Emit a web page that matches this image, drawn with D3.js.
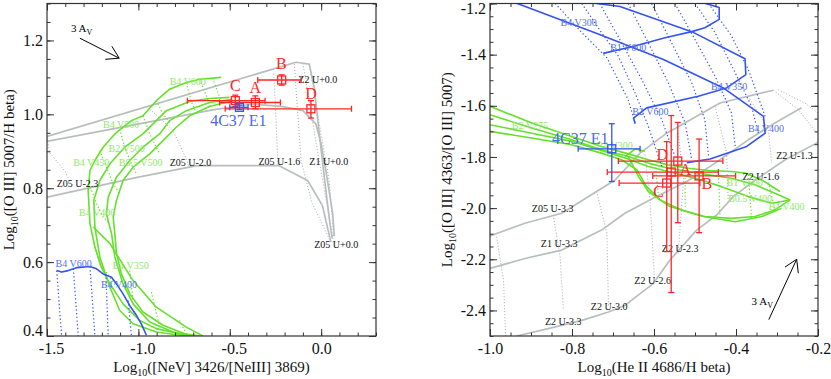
<!DOCTYPE html>
<html>
<head>
<meta charset="utf-8">
<script src="https://cdn.jsdelivr.net/npm/d3@7"></script>
<style>
  body { margin: 0; background: #fff; }
  svg text { font-family: "Liberation Serif", "Times New Roman", Times, serif; }
</style>
</head>
<body>
<div id="fig"></div>
<script>
'use strict';

// ---------- knots A-D and 4C37 E1, left panel (log [NeV]/[NeIII] , log [OIII]/Hb)
var knotNames = ['A', 'B', 'C', 'D'];
var neX    = [-0.36, -0.216, -0.47, -0.056];
var neXlo  = [-0.556, -0.347, -0.732, -0.525];
var neXhi  = [-0.223, -0.11, -0.307, 0.166];
var o3Y    = [1.032, 1.093, 1.037, 1.015];
var o3Ylo  = [1.015, 1.079, 1.021, 0.99];
var o3Yhi  = [1.05, 1.107, 1.052, 1.037];
// x, xlo, xhi, y, ylo, yhi
var e1Left = [-0.447, -0.5, -0.4, 1.019, 1.013, 1.025];

// ---------- right panel (log HeII/Hb , log [OIII]4363/5007)
var heX    = [-0.542, -0.49, -0.569, -0.558];
var heXlo  = [-0.687, -0.603, -0.685, -0.714];
var heXhi  = [-0.432, -0.401, -0.488, -0.443];
var tY     = [-1.816, -1.874, -1.902, -1.859];
var tYlo   = [-2.057, -2.096, -2.17, -2.33];
var tYhi   = [-1.665, -1.73, -1.74, -1.638];
var e1Right = [-0.703, -0.785, -0.634, -1.768, -1.896, -1.67];

// ---------- tick labels
var neTicks = [-1.5, -1.0, -0.5, 0.0];
var o3Ticks = [0.4, 0.6, 0.8, 1.0, 1.2];
var heTicks = [-1.0, -0.8, -0.6, -0.4, -0.2];
var tTicks  = [-2.4, -2.2, -2.0, -1.8, -1.6, -1.4, -1.2];

// ---------- photoionization tracks (gray), left
var grayL = [
  [[-1.5,0.94],[-0.138,1.141],[-0.065,1.136],[-0.038,1.073],[-0.014,0.965],[0.017,0.83],[0.044,0.72],[0.06,0.665]],
  [[-1.5,0.927],[-0.593,1.012],[-0.374,1.028],[-0.21,1.021],[-0.1,1.01],[-0.029,0.974],[0.0,0.92],[0.035,0.82],[0.063,0.731],[0.072,0.67]],
  [[-1.5,0.776],[-1.0,0.83],[-0.68,0.861],[-0.23,0.861],[-0.074,0.821],[0.007,0.753],[0.053,0.654]]
];
var grayDotL = [
  [[-1.497,0.935],[-1.487,0.897],[-1.4,0.845],[-1.37,0.812]],
  [[-0.95,1.02],[-0.81,0.956],[-0.738,0.879],[-0.725,0.861]],
  [[-0.26,1.11],[-0.256,1.087],[-0.238,0.884],[-0.235,0.862]],
  [[-0.147,1.136],[-0.11,0.875],[-0.05,0.76],[0.053,0.654]],
  [[-0.1,1.138],[-0.02,0.9],[0.03,0.76],[0.065,0.66]],
  [[-0.065,1.132],[0.044,0.82],[0.068,0.67]]
];

// ---------- shock + precursor (green), left
var greenL = [
  [[-0.547,1.1],[-0.665,1.095],[-0.738,1.086],[-0.829,1.068],[-0.902,1.037],[-0.975,0.996],[-1.038,0.983],[-1.129,0.947],[-1.193,0.911],[-1.238,0.875],[-1.265,0.848],[-1.275,0.794],[-1.265,0.704],[-1.238,0.641],[-1.202,0.586],[-1.156,0.541],[-1.084,0.487],[-0.993,0.442],[-0.902,0.42],[-0.775,0.406],[-0.693,0.4]],
  [[-0.502,1.046],[-0.611,1.043],[-0.72,1.035],[-0.847,1.01],[-0.92,0.974],[-0.975,0.947],[-1.075,0.911],[-1.156,0.866],[-1.211,0.821],[-1.244,0.767],[-1.238,0.695],[-1.211,0.614],[-1.156,0.532],[-1.102,0.469],[-1.029,0.433],[-0.902,0.411],[-0.738,0.4]],
  [[-0.484,1.041],[-0.611,1.032],[-0.738,1.01],[-0.829,0.983],[-0.884,0.947],[-0.975,0.911],[-1.047,0.875],[-1.12,0.83],[-1.165,0.776],[-1.175,0.731],[-1.147,0.677],[-1.129,0.614],[-1.084,0.541],[-1.029,0.487],[-0.938,0.438],[-0.811,0.411],[-0.711,0.4]],
  [[-0.484,1.037],[-0.611,1.021],[-0.72,0.996],[-0.793,0.965],[-0.865,0.929],[-0.938,0.893],[-1.029,0.857],[-1.084,0.821],[-1.12,0.767],[-1.138,0.722],[-1.129,0.677],[-1.12,0.623],[-1.093,0.568],[-1.047,0.514],[-0.975,0.465],[-0.865,0.429],[-0.747,0.406],[-0.665,0.4]],
  [[-1.247,0.695],[-1.156,0.65],[-1.029,0.55],[-0.902,0.478],[-0.738,0.424],[-0.647,0.4]]
];
var greenDotL = [
  [[-0.593,1.098],[-0.556,1.046],[-0.547,1.037]],
  [[-0.665,1.095],[-0.62,1.041],[-0.611,1.021]],
  [[-0.738,1.086],[-0.711,1.035],[-0.684,1.005]],
  [[-0.902,1.037],[-0.865,1.001],[-0.82,0.974]],
  [[-0.975,0.996],[-0.938,0.947],[-0.902,0.911],[-0.884,0.893]],
  [[-1.102,0.96],[-1.075,0.911],[-1.038,0.866],[-1.011,0.839]],
  [[-1.211,0.902],[-1.175,0.857],[-1.138,0.812],[-1.102,0.785]],
  [[-1.262,0.803],[-1.229,0.758],[-1.193,0.722],[-1.156,0.704]],
  [[-1.238,0.641],[-1.211,0.595],[-1.156,0.559],[-1.12,0.532]],
  [[-1.047,0.577],[-1.029,0.496]],
  [[-0.929,0.519],[-0.884,0.424]],
  [[-0.775,0.442],[-0.738,0.406]]
];

// ---------- shock only (blue), left
var blueL = [
  [[-1.447,0.577],[-1.42,0.573],[-1.384,0.577],[-1.338,0.585],[-1.265,0.588],[-1.229,0.582],[-1.193,0.568],[-1.147,0.559],[-1.12,0.541],[-1.084,0.514],[-1.047,0.482],[-1.011,0.456],[-0.984,0.433],[-0.956,0.402]]
];
var blueDotL = [
  [[-1.447,0.577],[-1.42,0.4]],
  [[-1.356,0.582],[-1.329,0.4]],
  [[-1.265,0.588],[-1.238,0.4]],
  [[-1.178,0.568],[-1.165,0.4]],
  [[-1.056,0.496],[-1.038,0.4]]
];

// ---------- right panel tracks
var grayR = [
  [[-1.0,-2.109],[-0.915,-2.059],[-0.825,-2.02],[-0.74,-1.935],[-0.695,-1.89],[-0.634,-1.785],[-0.569,-1.707],[-0.439,-1.589],[-0.309,-1.539]],
  [[-1.0,-2.236],[-0.915,-2.197],[-0.825,-2.164],[-0.728,-2.086],[-0.671,-2.02],[-0.602,-1.961],[-0.52,-1.896],[-0.451,-1.824],[-0.37,-1.733],[-0.305,-1.667],[-0.24,-1.608]],
  [[-0.935,-2.5],[-0.858,-2.471],[-0.776,-2.439],[-0.711,-2.406],[-0.671,-2.38],[-0.602,-2.295],[-0.561,-2.203],[-0.496,-2.086],[-0.447,-2.027],[-0.407,-1.955],[-0.358,-1.896],[-0.28,-1.811],[-0.2,-1.743]]
];
var grayDotR = [
  [[-0.984,-2.112],[-0.967,-2.282],[-0.962,-2.5]],
  [[-0.846,-2.027],[-0.829,-2.19],[-0.821,-2.399]],
  [[-0.74,-1.935],[-0.715,-2.099],[-0.711,-2.386]],
  [[-0.622,-1.791],[-0.61,-1.968],[-0.598,-2.295]],
  [[-0.541,-1.707],[-0.528,-1.89],[-0.541,-2.177]],
  [[-0.451,-1.602],[-0.423,-1.785],[-0.419,-1.968]],
  [[-0.37,-1.563],[-0.321,-1.693],[-0.313,-1.824]],
  [[-0.309,-1.539],[-0.248,-1.615],[-0.203,-1.707]],
  [[-0.297,-1.537],[-0.232,-1.589],[-0.2,-1.628]]
];
var greenR = [
  [[-1.0,-1.602],[-0.898,-1.667],[-0.801,-1.72],[-0.728,-1.759],[-0.663,-1.788],[-0.614,-1.811],[-0.565,-1.831],[-0.516,-1.844],[-0.467,-1.853],[-0.411,-1.857],[-0.378,-1.863],[-0.337,-1.89],[-0.293,-1.935]],
  [[-1.0,-1.635],[-0.898,-1.687],[-0.801,-1.733],[-0.728,-1.772],[-0.663,-1.798],[-0.614,-1.824],[-0.565,-1.844],[-0.516,-1.857],[-0.467,-1.87],[-0.411,-1.883],[-0.354,-1.909],[-0.305,-1.942],[-0.268,-1.968]],
  [[-1.0,-1.674],[-0.898,-1.707],[-0.801,-1.739],[-0.728,-1.775],[-0.663,-1.808],[-0.614,-1.837],[-0.565,-1.857],[-0.5,-1.883],[-0.435,-1.916],[-0.37,-1.955],[-0.313,-1.981],[-0.268,-1.968]],
  [[-1.0,-1.7],[-0.898,-1.726],[-0.801,-1.752],[-0.728,-1.785],[-0.679,-1.811],[-0.642,-1.85],[-0.618,-1.916],[-0.585,-1.968],[-0.533,-2.007],[-0.476,-2.033],[-0.411,-2.04],[-0.354,-2.033],[-0.305,-2.007],[-0.268,-1.968]],
  [[-0.663,-1.798],[-0.638,-1.876],[-0.614,-1.935],[-0.561,-1.994],[-0.48,-2.033],[-0.402,-2.053],[-0.337,-2.033],[-0.289,-2.001]],
  [[-0.671,-1.798],[-0.646,-1.769],[-0.622,-1.778]]
];
var greenDotR = [
  [[-0.598,-1.814],[-0.589,-1.955]],
  [[-0.524,-1.841],[-0.524,-1.995]],
  [[-0.443,-1.856],[-0.439,-2.033]],
  [[-0.37,-1.87],[-0.362,-2.04]],
  [[-0.321,-1.9],[-0.305,-2.007]]
];
var blueR = [
  [[-0.935,-1.199],[-0.744,-1.314],[-0.577,-1.419],[-0.431,-1.53],[-0.333,-1.641],[-0.329,-1.707],[-0.374,-1.759],[-0.463,-1.808],[-0.52,-1.822]],
  [[-0.744,-1.199],[-0.683,-1.212],[-0.508,-1.31],[-0.378,-1.416],[-0.376,-1.478],[-0.423,-1.53],[-0.492,-1.563],[-0.618,-1.608],[-0.65,-1.648],[-0.646,-1.67]],
  [[-0.724,-1.395],[-0.654,-1.369],[-0.573,-1.334],[-0.508,-1.31],[-0.476,-1.295],[-0.441,-1.262],[-0.441,-1.216],[-0.476,-1.199]]
];
var blueDotR = [
  [[-0.841,-1.2],[-0.776,-1.314],[-0.715,-1.412],[-0.663,-1.576],[-0.646,-1.667]],
  [[-0.776,-1.2],[-0.728,-1.314],[-0.687,-1.406],[-0.646,-1.55],[-0.614,-1.68],[-0.581,-1.837]],
  [[-0.732,-1.2],[-0.679,-1.354],[-0.63,-1.497],[-0.581,-1.654],[-0.549,-1.798]],
  [[-0.663,-1.2],[-0.614,-1.354],[-0.565,-1.51],[-0.524,-1.667],[-0.508,-1.811]],
  [[-0.606,-1.2],[-0.557,-1.354],[-0.508,-1.51],[-0.476,-1.654],[-0.467,-1.798]],
  [[-0.549,-1.2],[-0.5,-1.341],[-0.451,-1.484],[-0.411,-1.628],[-0.402,-1.759]],
  [[-0.5,-1.2],[-0.451,-1.314],[-0.402,-1.471],[-0.362,-1.602],[-0.346,-1.707]],
  [[-0.467,-1.2],[-0.411,-1.327],[-0.37,-1.458],[-0.329,-1.641]]
];

// ---------- model labels  [text, x, y]
var blackLabL = [['Z05 U-2.3',-1.447,0.803],['Z05 U-2.0',-0.829,0.861],['Z05 U-1.6',-0.343,0.864],
  ['Z1 U+0.0',-0.065,0.864],['Z2 U+0.0',-0.125,1.086],['Z05 U+0.0',-0.038,0.639]];
var greenLabL = [['B4 V600',-0.829,1.08],['B4 V500',-1.193,0.964],['B2 V500',-1.163,0.897],['B4 V450',-1.357,0.859],
  ['B0.5 V500',-1.107,0.859],['B4 V400',-1.325,0.726],['B4 V350',-1.142,0.582]];
var blueLabL = [['B4 V600',-1.453,0.586],['B4 V400',-1.205,0.531]];
var blackLabR = [['Z05 U-3.3',-0.898,-2.016],['Z1 U-3.3',-0.876,-2.153],['Z2 U-3.3',-0.866,-2.458],['Z2 U-3.0',-0.754,-2.399],
  ['Z2 U-2.6',-0.648,-2.297],['Z2 U-2.3',-0.581,-2.171],['Z2 U-1.6',-0.384,-1.892],['Z2 U-1.3',-0.302,-1.808]];
var greenLabR = [['B2 V275',-0.947,-1.691],['B4 V300',-0.74,-1.768],['B1 V600',-0.423,-1.913],['B0.5 V400',-0.419,-1.977],['B4 V400',-0.321,-2.007]];
var blueLabR = [['B4 V300',-0.828,-1.288],['B1 V600',-0.707,-1.386],['B4 V350',-0.461,-1.539],['B2 V600',-0.653,-1.637],['B4 V400',-0.371,-1.702]];

// knot label positions  [x, y]
var knotLabL = [[-0.36,1.059],[-0.218,1.123],[-0.469,1.064],[-0.056,1.042]];
var knotLabR = [[-0.523,-1.87],[-0.471,-1.925],[-0.589,-1.956],[-0.58,-1.811]];
var e1LabL = [-0.453, 0.969];
var e1LabR = [-0.78, -1.748];

// reddening vectors (3 A_V): start, end, label
var avL = [[-1.32,1.206],[-1.105,1.152],[-1.369,1.224]];
var avR = [[-0.32,-2.436],[-0.252,-2.2],[-0.362,-2.38]];

var fig = {};
fig.font = '"Liberation Serif", "Times New Roman", Times, serif';
fig.red = '#ff2626';
fig.blue = '#3553f2';
fig.green = '#64e12a';
fig.greenTxt = '#8fe86c';
fig.blueTxt = '#5470f0';
fig.gray = '#b8bebe';
fig.grayDot = '#a8a8a8';

fig.svg = d3.select('#fig').append('svg')
  .attr('width', 831)
  .attr('height', 379)
  .style('display', 'block');

fig.lines = function (g, x, y, set, color, width, dash) {
  var line = d3.line().x(function (d) { return x(d[0]); }).y(function (d) { return y(d[1]); });
  g.append('g').selectAll('path').data(set).enter().append('path')
    .attr('d', line)
    .attr('fill', 'none')
    .attr('stroke', color)
    .attr('stroke-width', width)
    .attr('stroke-dasharray', dash || null)
    .attr('stroke-linejoin', 'round');
};

fig.labels = function (g, x, y, list, color, size, anchor) {
  g.append('g').selectAll('text').data(list).enter().append('text')
    .attr('x', function (d) { return x(d[1]); })
    .attr('y', function (d) { return y(d[2]); })
    .attr('fill', color)
    .style('font-size', size + 'px')
    .attr('text-anchor', anchor || 'start')
    .text(function (d) { return d[0]; });
};

fig.knots = function (g, x, y, k, color) {
  var data = k.x.map(function (v, i) {
    return {x: v, xlo: k.xlo[i], xhi: k.xhi[i], y: k.y[i], ylo: k.ylo[i], yhi: k.yhi[i]};
  });
  var cap = 3;
  var s = g.append('g').selectAll('g').data(data).enter().append('g')
    .attr('stroke', color).attr('stroke-width', 1.3).attr('fill', 'none');
  s.append('line').attr('x1', function (d) { return x(d.xlo); }).attr('x2', function (d) { return x(d.xhi); })
    .attr('y1', function (d) { return y(d.y); }).attr('y2', function (d) { return y(d.y); });
  s.append('line').attr('x1', function (d) { return x(d.x); }).attr('x2', function (d) { return x(d.x); })
    .attr('y1', function (d) { return y(d.ylo); }).attr('y2', function (d) { return y(d.yhi); });
  [['xlo', 'v'], ['xhi', 'v'], ['ylo', 'h'], ['yhi', 'h']].forEach(function (c) {
    s.append('line')
      .attr('x1', function (d) { return c[1] === 'v' ? x(d[c[0]]) : x(d.x) - cap; })
      .attr('x2', function (d) { return c[1] === 'v' ? x(d[c[0]]) : x(d.x) + cap; })
      .attr('y1', function (d) { return c[1] === 'v' ? y(d.y) - cap : y(d[c[0]]); })
      .attr('y2', function (d) { return c[1] === 'v' ? y(d.y) + cap : y(d[c[0]]); });
  });
  s.append('rect')
    .attr('x', function (d) { return x(d.x) - 4; })
    .attr('y', function (d) { return y(d.y) - 4; })
    .attr('width', 8).attr('height', 8);
};

fig.arrow = function (g, x, y, av) {
  var x0 = x(av[0][0]), y0 = y(av[0][1]), x1 = x(av[1][0]), y1 = y(av[1][1]);
  var a = Math.atan2(y0 - y1, x0 - x1);
  var len = 14, spread = 0.55;
  var grp = g.append('g').attr('stroke', '#000').attr('stroke-width', 1).attr('fill', 'none');
  grp.append('line').attr('x1', x0).attr('y1', y0).attr('x2', x1).attr('y2', y1);
  [-spread, spread].forEach(function (s) {
    grp.append('line').attr('x1', x1).attr('y1', y1)
      .attr('x2', x1 + len * Math.cos(a + s)).attr('y2', y1 + len * Math.sin(a + s));
  });
  var t = g.append('text').attr('x', x(av[2][0])).attr('y', y(av[2][1]))
    .style('font-size', '11px').attr('fill', '#000');
  t.append('tspan').text('3 A');
  t.append('tspan').style('font-size', '8px').attr('dy', 3).text('V');
};

fig.axes = function (svg, x, y, p) {
  var fmt = function (d) { return d.toFixed(1); };
  var ax = svg.append('g');
  var minorX = d3.range(p.xDom[0], p.xDom[1] + 1e-9, p.xMinor);
  var minorY = d3.range(p.yDom[0], p.yDom[1] + 1e-9, p.yMinor);
  var xb = ax.append('g').attr('transform', 'translate(0,' + p.bottom + ')')
    .call(d3.axisBottom(x).tickValues(p.xTicks).tickFormat(fmt).tickSize(-7).tickPadding(7));
  ax.append('g').attr('transform', 'translate(0,' + p.bottom + ')')
    .call(d3.axisBottom(x).tickValues(minorX).tickFormat('').tickSize(-3.5));
  ax.append('g').attr('transform', 'translate(0,' + p.top + ')')
    .call(d3.axisTop(x).tickValues(p.xTicks).tickFormat('').tickSize(-7));
  ax.append('g').attr('transform', 'translate(0,' + p.top + ')')
    .call(d3.axisTop(x).tickValues(minorX).tickFormat('').tickSize(-3.5));
  var yl = ax.append('g').attr('transform', 'translate(' + p.left + ',0)')
    .call(d3.axisLeft(y).tickValues(p.yTicks).tickFormat(fmt).tickSize(-7).tickPadding(4));
  ax.append('g').attr('transform', 'translate(' + p.left + ',0)')
    .call(d3.axisLeft(y).tickValues(minorY).tickFormat('').tickSize(-3.5));
  ax.append('g').attr('transform', 'translate(' + p.right + ',0)')
    .call(d3.axisRight(y).tickValues(p.yTicks).tickFormat('').tickSize(-7));
  ax.append('g').attr('transform', 'translate(' + p.right + ',0)')
    .call(d3.axisRight(y).tickValues(minorY).tickFormat('').tickSize(-3.5));
  ax.selectAll('.domain').remove();
  ax.selectAll('.tick line').attr('stroke', '#333').attr('stroke-width', 1);
  ax.selectAll('.tick text')
    .style('font-family', fig.font)
    .style('font-size', '16px')
    .attr('fill', '#111');
  // negative labels sit a little right of the tick in the left panel
  xb.selectAll('.tick text').attr('dx', function (d) { return d < 0 ? p.negShift : 0; });
  // edge labels are kept inside the frame
  yl.selectAll('.tick text').attr('dy', function (d) {
    var py = y(d);
    if (py - 5 < p.top) return '0.32em';
    if (py + 5 > p.bottom) return '-0.05em';
    return '0.32em';
  }).attr('transform', function (d) {
    var py = y(d);
    if (py - 5 < p.top) return 'translate(0,4.5)';
    return null;
  });
  ax.append('rect')
    .attr('x', p.left).attr('y', p.top)
    .attr('width', p.right - p.left).attr('height', p.bottom - p.top)
    .attr('fill', 'none').attr('stroke', '#333').attr('stroke-width', 1.2);

  // axis titles with subscript 10
  var xt = svg.append('text').attr('x', (p.left + p.right) / 2).attr('y', 372)
    .attr('text-anchor', 'middle').style('font-size', '15px').attr('fill', '#111');
  xt.append('tspan').text('Log');
  xt.append('tspan').style('font-size', '10px').attr('dy', 4).text('10');
  xt.append('tspan').attr('dy', -4).text(p.xTitle);
  var yt = svg.append('text')
    .attr('transform', 'translate(' + p.yTitleX + ',' + (p.top + p.bottom) / 2 + ') rotate(-90)')
    .attr('text-anchor', 'middle').style('font-size', '15px').attr('fill', '#111');
  yt.append('tspan').text('Log');
  yt.append('tspan').style('font-size', '10px').attr('dy', 4).text('10');
  yt.append('tspan').attr('dy', -4).text(p.yTitle);
};

fig.panel = function (p) {
  var svg = fig.svg;
  var x = d3.scaleLinear().domain(p.xDom).range([p.left, p.right]);
  var y = d3.scaleLinear().domain(p.yDom).range([p.bottom, p.top]);
  svg.append('clipPath').attr('id', 'clip-' + p.name).append('rect')
    .attr('x', p.left).attr('y', p.top).attr('width', p.right - p.left).attr('height', p.bottom - p.top);
  var g = svg.append('g').attr('clip-path', 'url(#clip-' + p.name + ')');

  fig.lines(g, x, y, p.grayDot, fig.grayDot, 1, '1,2');
  fig.lines(g, x, y, p.gray, fig.gray, 1.7);
  fig.lines(g, x, y, p.greenDot, fig.green, 1.2, '1.3,2.2');
  fig.lines(g, x, y, p.green, fig.green, 1.6);
  fig.lines(g, x, y, p.blueDot, fig.blue, 1.2, '1.3,2.4');
  fig.lines(g, x, y, p.blue, fig.blue, 1.6);

  fig.labels(g, x, y, p.blackLab, '#111', 10);
  fig.labels(g, x, y, p.greenLab, fig.greenTxt, 10);
  fig.labels(g, x, y, p.blueLab, fig.blueTxt, 10);
  fig.arrow(g, x, y, p.av);

  var top = svg.append('g');
  fig.knots(top, x, y, p.knots, fig.red);
  fig.knots(top, x, y, {x: [p.e1[0]], xlo: [p.e1[1]], xhi: [p.e1[2]], y: [p.e1[3]], ylo: [p.e1[4]], yhi: [p.e1[5]]}, fig.blue);
  var kl = knotNames.map(function (n, i) { return [n, p.knotLab[i][0], p.knotLab[i][1]]; });
  fig.labels(top, x, y, kl, fig.red, 16, 'middle');
  fig.labels(top, x, y, [['4C37 E1', p.e1Lab[0], p.e1Lab[1]]], '#4a68f5', 16, 'middle');

  fig.axes(svg, x, y, p);
};

fig.panel({
  name: 'ne', left: 47, right: 376, top: 3.5, bottom: 336,
  xDom: [-1.5, 0.3], yDom: [0.4, 1.3], xMinor: 0.1, yMinor: 0.05, negShift: 4,
  xTicks: neTicks, yTicks: o3Ticks, yTitleX: 14,
  xTitle: '([NeV] 3426/[NeIII] 3869)', yTitle: '([O III] 5007/H beta)',
  gray: grayL, grayDot: grayDotL, green: greenL, greenDot: greenDotL, blue: blueL, blueDot: blueDotL,
  blackLab: blackLabL, greenLab: greenLabL, blueLab: blueLabL, av: avL,
  knots: {x: neX, xlo: neXlo, xhi: neXhi, y: o3Y, ylo: o3Ylo, yhi: o3Yhi},
  knotLab: knotLabL, e1: e1Left, e1Lab: e1LabL
});

fig.panel({
  name: 'he', left: 490, right: 818, top: 3.5, bottom: 336,
  xDom: [-1.0, -0.2], yDom: [-2.5, -1.2], xMinor: 0.05, yMinor: 0.05, negShift: 0,
  xTicks: heTicks, yTicks: tTicks, yTitleX: 452,
  xTitle: '(He II 4686/H beta)', yTitle: '([O III] 4363/[O III] 5007)',
  gray: grayR, grayDot: grayDotR, green: greenR, greenDot: greenDotR, blue: blueR, blueDot: blueDotR,
  blackLab: blackLabR, greenLab: greenLabR, blueLab: blueLabR, av: avR,
  knots: {x: heX, xlo: heXlo, xhi: heXhi, y: tY, ylo: tYlo, yhi: tYhi},
  knotLab: knotLabR, e1: e1Right, e1Lab: e1LabR
});
</script>
</body>
</html>
